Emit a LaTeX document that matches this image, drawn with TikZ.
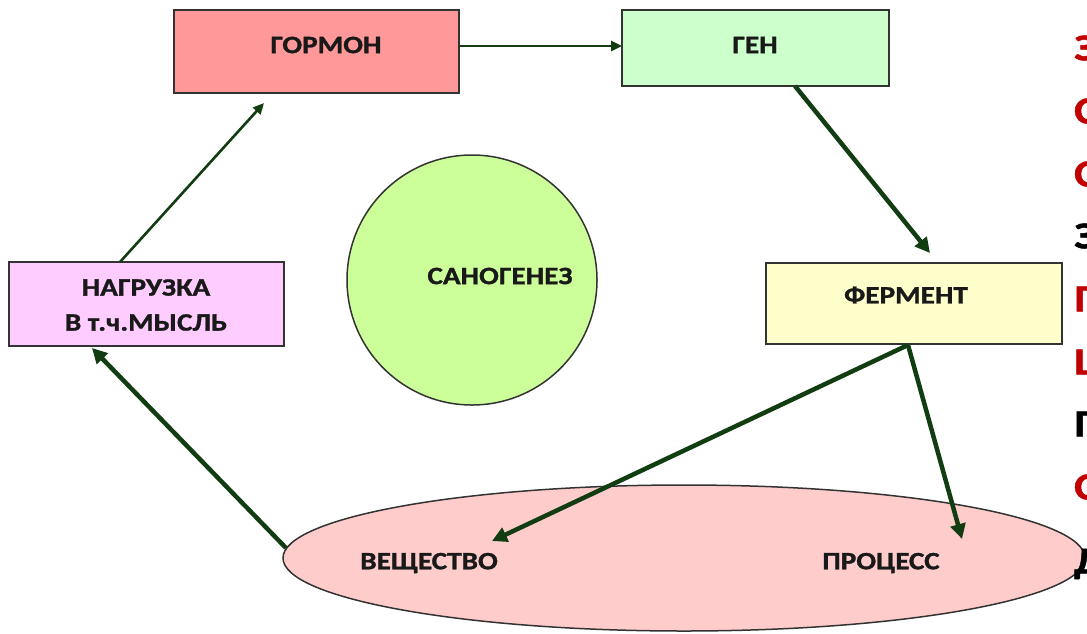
\documentclass[tikz,border=0pt]{standalone}
\usepackage{fontspec}
\setmainfont{Carlito}[FakeStretch=1.17,FakeBold=1.2]
\usetikzlibrary{arrows.meta,shapes.geometric}
\definecolor{arr}{HTML}{123D12}
\definecolor{edge}{HTML}{333333}
\definecolor{redtxt}{HTML}{C00000}
\tikzset{
  box/.style={draw=edge, line width=1.8pt},
  lbl/.style={font=\bfseries\fontsize{25}{35}\selectfont, text=black!90, align=center, inner sep=0pt},
  thick arrow/.style={draw=arr, line width=4.5pt, -{Triangle[length=15pt,width=15pt]}},
  thin arrow/.style={draw=arr, line width=2.6pt, -{Triangle[length=11pt,width=10pt]}},
  side/.style={font=\bfseries\fontsize{38}{40}\selectfont, anchor=west, inner sep=0pt}
}
\begin{document}
\begin{tikzpicture}[x=1pt,y=-1pt]
\clip (0,0) rectangle (1087,633);
\useasboundingbox (0,0) rectangle (1087,633);
\fill[white] (0,0) rectangle (1087,633);
% boxes
\draw[box, fill={rgb,255:red,255;green,153;blue,153}] (174,10) rectangle (459,93);
\node[lbl] (gormon) at (326,45) {ГОРМОН};
\coordinate (gormonR) at (459,46);
\draw[box, fill={rgb,255:red,204;green,255;blue,204}] (622,10) rectangle (889,86);
\node[lbl] (gen) at (755,45) {ГЕН};
\coordinate (genL) at (622,46);
\draw[box, fill={rgb,255:red,255;green,204;blue,255}] (9,262) rectangle (284,346);
\node[lbl] (nagr) at (146,305) {НАГРУЗКА\\В т.ч.МЫСЛЬ};
\draw[box, fill={rgb,255:red,255;green,255;blue,204}] (766,263) rectangle (1062,344);
\node[lbl] (ferm) at (906,295) {ФЕРМЕНТ};
% circle
\draw[edge, line width=1.5pt, fill={rgb,255:red,204;green,255;blue,153}] (472,280) ellipse [x radius=125, y radius=125];
\node[lbl] (sano) at (500,276) {САНОГЕНЕЗ};
% ellipse
\draw[edge, line width=1.5pt, fill={rgb,255:red,255;green,204;blue,204}] (684,558) ellipse [x radius=401, y radius=73];
\node[lbl] (vesh) at (429,563) {ВЕЩЕСТВО};
\node[lbl] (proc) at (881,563) {ПРОЦЕСС};
% connector points
\coordinate (genB) at (795,86);
\coordinate (fermTip) at (930,253);
\coordinate (fermB) at (908,345);
\coordinate (veshTip) at (492,541);
\coordinate (procTip) at (962,539);
\coordinate (ellL) at (286,548);
\coordinate (nagrTip) at (92,348);
\coordinate (nagrT) at (120,262);
\coordinate (gormonTip) at (264,103);
% arrows
\draw[thin arrow] (gormonR) -- (genL);
\draw[thick arrow] (genB) -- (fermTip);
\draw[thick arrow] (fermB) -- (veshTip);
\draw[thick arrow] (fermB) -- (procTip);
\draw[thick arrow] (ellL) -- (nagrTip);
\draw[thin arrow] (nagrT) -- (gormonTip);
% text cut off at the right edge
\node[side, text=redtxt] (s1) at (1074,48) {З};
\node[side, text=redtxt] (s2) at (1074,111) {С};
\node[side, text=redtxt] (s3) at (1074,174) {С};
\node[side, text=black] (s4) at (1074,236) {З};
\node[side, text=redtxt] (s5) at (1074,299) {П};
\node[side, text=redtxt] (s6) at (1074,362) {Ш};
\node[side, text=black] (s7) at (1074,424) {П};
\node[side, text=redtxt] (s8) at (1074,487) {С};
\node[side, text=black] (s9) at (1074,564) {Д};
\end{tikzpicture}
\end{document}
